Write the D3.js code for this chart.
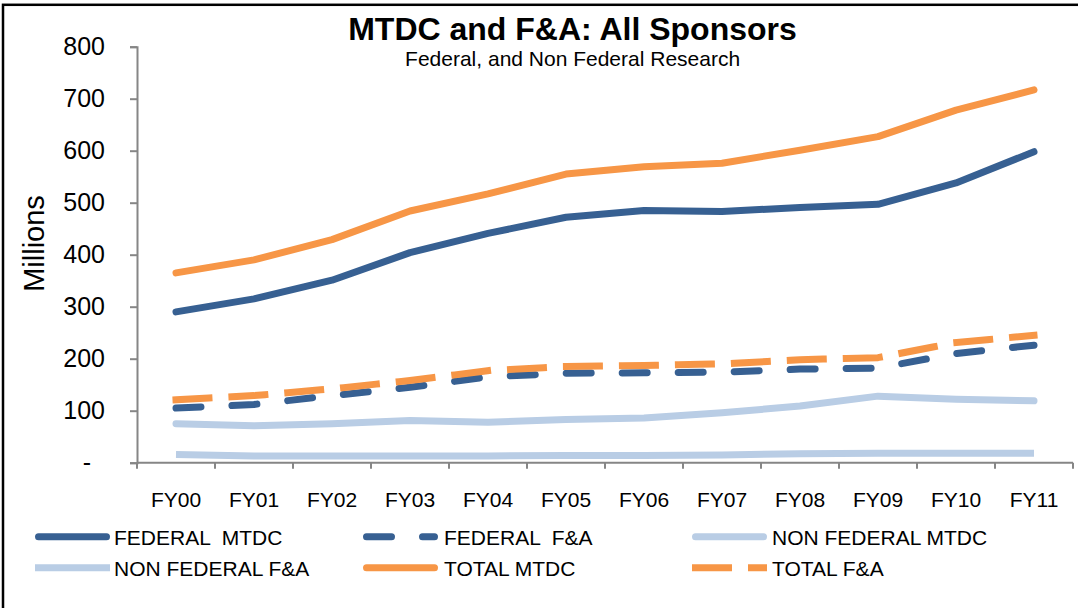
<!DOCTYPE html>
<html><head><meta charset="utf-8">
<script src="https://cdn.jsdelivr.net/npm/d3@7"></script>
<style>
html,body{margin:0;padding:0;background:#fff;}
svg{display:block;font-family:"Liberation Sans",Arial,sans-serif;}
text{white-space:pre;}
</style></head><body>
<svg id="chart" width="1078" height="608"></svg>
<script>
// ---- data ----
const categories = ["FY00","FY01","FY02","FY03","FY04","FY05","FY06","FY07","FY08","FY09","FY10","FY11"];
const federalMTDC    = [290, 315, 351, 404, 441, 472, 485, 483, 491, 497, 538, 598];
const federalFA      = [105, 112, 129, 145, 165, 172, 173, 174, 180, 182, 210, 226];
const nonFederalMTDC = [75, 71, 75, 81, 78, 83, 86, 96, 109, 128, 122, 119];
const nonFederalFA   = [16, 13, 13, 13, 13, 14, 14, 15, 17, 18, 18, 18];
const totalMTDC      = [365, 390, 429, 484, 517, 555, 569, 576, 601, 627, 678, 717];
const totalFA        = [121, 129, 142, 158, 177, 185, 187, 190, 198, 202, 231, 245];
const seriesNames = ["FEDERAL  MTDC","FEDERAL  F&A","NON FEDERAL MTDC","NON FEDERAL F&A","TOTAL MTDC","TOTAL F&A"];
const yTickValues = [0,100,200,300,400,500,600,700,800];
const titleText = "MTDC and F&A: All Sponsors";
const subtitleText = "Federal, and Non Federal Research";
const yAxisTitle = "Millions";

// ---- styles ----
const seriesValues = [federalMTDC, federalFA, nonFederalMTDC, nonFederalFA, totalMTDC, totalFA];
const styles = [
  {color:"#376092", dash:null,    cap:"round"},
  {color:"#376092", dash:"25 31", cap:"round"},
  {color:"#B9CDE5", dash:null,    cap:"round"},
  {color:"#B9CDE5", dash:null,    cap:"butt"},
  {color:"#F79646", dash:null,    cap:"round"},
  {color:"#F79646", dash:"33 23", cap:"square"}
];
const axisColor = "#868686";
const lineW = 7;

const svg = d3.select("#chart");
svg.append("rect").attr("width",1078).attr("height",608).attr("fill","#fff");
svg.append("rect").attr("x",3).attr("y",4.8).attr("width",1300).attr("height",900)
  .attr("fill","none").attr("stroke","#000").attr("stroke-width",2.5);

const x = d3.scaleBand().domain(categories).range([137,1073]).padding(0);
const y = d3.scaleLinear().domain([0,800]).range([462.7,46.7]);
const cx = c => x(c) + x.bandwidth()/2;

// title
svg.append("text").attr("x",572.5).attr("y",40).attr("text-anchor","middle")
  .attr("font-size",32).attr("font-weight","bold").text(titleText);
svg.append("text").attr("x",572.6).attr("y",65.7).attr("text-anchor","middle")
  .attr("font-size",21).text(subtitleText);

// y axis
const gy = svg.append("g").attr("transform","translate(137,0)")
  .call(d3.axisLeft(y).tickValues(yTickValues).tickSize(7).tickPadding(25)
    .tickFormat(d => d === 0 ? "-" : d3.format("d")(d)));
gy.selectAll("path,line").attr("stroke",axisColor).attr("stroke-width",2);
gy.selectAll("text").attr("font-size",25).attr("fill","#000")
  .attr("font-family","Liberation Sans, Arial, sans-serif")
  .attr("dx", d => d === 0 ? -14 : 0);

svg.append("text").attr("transform","translate(44,243.5) rotate(-90)")
  .attr("text-anchor","middle").attr("font-size",29).text(yAxisTitle);

// x axis
const gx = svg.append("g").attr("transform",`translate(0,${y(0)})`)
  .call(d3.axisBottom(x).tickSize(0).tickPadding(29));
gx.select(".domain").remove();
gx.selectAll("text").attr("font-size",21).attr("fill","#000")
  .attr("font-family","Liberation Sans, Arial, sans-serif");
gx.append("line").attr("x1",x.range()[0]).attr("x2",x.range()[1])
  .attr("stroke",axisColor).attr("stroke-width",2);
const bounds = categories.map(c => x(c)).concat([x.range()[1]]);
gx.selectAll("line.bt").data(bounds).join("line").attr("class","bt")
  .attr("x1",d=>d).attr("x2",d=>d).attr("y1",0).attr("y2",6)
  .attr("stroke",axisColor).attr("stroke-width",2);

// lines
const line = d3.line().x((d,i)=>cx(categories[i])).y(d=>y(d));
seriesValues.forEach((vals,k) => {
  const s = styles[k];
  svg.append("path").datum(vals).attr("d",line)
    .attr("fill","none").attr("stroke",s.color).attr("stroke-width",lineW)
    .attr("stroke-linecap",s.cap).attr("stroke-linejoin","round")
    .attr("stroke-dasharray",s.dash);
});

// legend
const colX = [35, 363, 692], colText = [114, 444, 772], rowY = [536.7, 567.7];
seriesNames.forEach((name,k) => {
  const s = styles[k];
  const c = k % 3, r = Math.floor(k / 3);
  const inset = s.cap === "butt" ? 0 : 3.5;
  svg.append("line").attr("x1",colX[c]+inset).attr("x2",colX[c]+75-inset)
    .attr("y1",rowY[r]).attr("y2",rowY[r])
    .attr("stroke",s.color).attr("stroke-width",lineW)
    .attr("stroke-linecap",s.cap).attr("stroke-dasharray",s.dash);
  svg.append("text").attr("x",colText[c]).attr("y",rowY[r]+8)
    .attr("font-size",21).text(name);
});
</script>
</body></html>
